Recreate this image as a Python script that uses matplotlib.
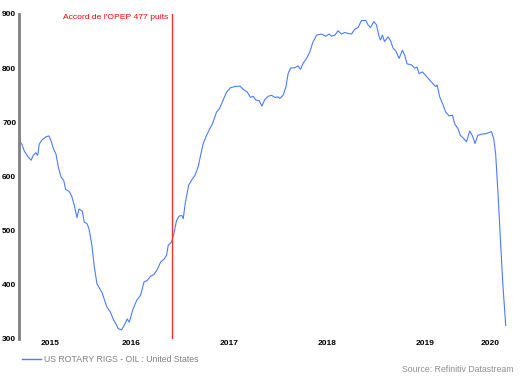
import matplotlib
matplotlib.use('Agg')
import matplotlib.pyplot as plt
from matplotlib.lines import Line2D

# US oil rig count (decimal year, rigs)
years = [2015.357, 2015.385, 2015.411, 2015.446, 2015.480, 2015.503, 2015.528,
         2015.548, 2015.564, 2015.595, 2015.630, 2015.663, 2015.684, 2015.707,
         2015.735, 2015.758, 2015.786, 2015.813, 2015.834, 2015.867, 2015.895,
         2015.921, 2015.949, 2015.969, 2016.003, 2016.023, 2016.051, 2016.071,
         2016.099, 2016.126, 2016.153, 2016.181, 2016.207, 2016.228, 2016.255,
         2016.289, 2016.323, 2016.344, 2016.370, 2016.405, 2016.439, 2016.462,
         2016.483, 2016.517, 2016.558, 2016.599, 2016.633, 2016.666, 2016.701,
         2016.735, 2016.768, 2016.803, 2016.837, 2016.864, 2016.881, 2016.915,
         2016.939, 2016.966, 2016.993, 2017.020, 2017.034, 2017.054, 2017.089,
         2017.119, 2017.153, 2017.187, 2017.211, 2017.238, 2017.272, 2017.299,
         2017.334, 2017.374, 2017.401, 2017.442, 2017.477, 2017.517, 2017.561,
         2017.612, 2017.646, 2017.687, 2017.721, 2017.748, 2017.776, 2017.809,
         2017.837, 2017.867, 2017.901, 2017.936, 2017.969, 2018.003, 2018.020,
         2018.054, 2018.082, 2018.105, 2018.130, 2018.173, 2018.207, 2018.232,
         2018.258, 2018.293, 2018.327, 2018.354, 2018.395, 2018.446, 2018.490,
         2018.523, 2018.548, 2018.582, 2018.615, 2018.650, 2018.684, 2018.717,
         2018.752, 2018.786, 2018.819, 2018.854, 2018.898, 2018.921, 2018.946,
         2018.980, 2019.007, 2019.034, 2019.048, 2019.068, 2019.089, 2019.126,
         2019.150, 2019.177, 2019.204, 2019.238, 2019.272, 2019.296, 2019.319,
         2019.364, 2019.398, 2019.421, 2019.442, 2019.477, 2019.517, 2019.551,
         2019.585, 2019.612, 2019.626, 2019.653, 2019.681, 2019.714, 2019.748,
         2019.783, 2019.806, 2019.840, 2019.864, 2019.898, 2019.926, 2019.959,
         2019.987, 2020.013, 2020.042, 2020.078, 2020.122, 2020.156, 2020.181,
         2020.204, 2020.224, 2020.248, 2020.272, 2020.297, 2020.327]
rigs = [667, 660, 647, 637, 630, 639, 644,
        639, 660, 668, 673, 675, 666, 652,
        641, 618, 599, 593, 576, 573, 564,
        547, 524, 540, 536, 516, 513, 504,
        476, 433, 402, 393, 385, 373, 359,
        350, 335, 329, 319, 317, 328, 337,
        331, 353, 371, 381, 405, 408, 416,
        419, 428, 442, 447, 455, 473, 479,
        495, 519, 527, 528, 522, 550, 584,
        593, 602, 618, 639, 661, 676, 686,
        698, 719, 724, 741, 756, 764, 766,
        767, 761, 756, 746, 748, 741, 740,
        730, 742, 748, 750, 746, 747, 744,
        750, 765, 790, 800, 801, 804, 798,
        809, 818, 830, 846, 861, 863, 859,
        863, 859, 861, 869, 863, 866, 864,
        863, 872, 875, 888, 888, 880, 875,
        886, 880, 858, 852, 861, 849, 858,
        851, 837, 832, 818, 833, 824, 808,
        806, 800, 802, 790, 793, 785, 778,
        771, 766, 769, 747, 735, 719, 712,
        713, 697, 688, 676, 670, 664, 684,
        675, 661, 676, 678, 679, 681, 683,
        670, 642, 569, 488, 402, 325]

opec_date = 2016.92
opec_label = "Accord de l'OPEP 477 puits"
year_labels = ['2015', '2016', '2017', '2018', '2019', '2020']
y_ticks = [300, 400, 500, 600, 700, 800, 900]

font = 'Liberation Sans'
blue = '#4d7bff'

fig = plt.figure(figsize=(5.2, 3.77), dpi=100)
ax = fig.add_axes([19/520, 1 - 339/377, (507 - 19)/520, (339 - 14)/377])

ax.plot(years, rigs, color=blue, lw=0.8)
ax.axvline(opec_date, color='#ff3030', lw=1.0)
ax.text(opec_date - 0.035, 893, opec_label, color='red', fontsize=6.1,
        family=font, ha='right', va='center')

x0, x1 = years[0], 2020.34
ax.set_xlim(x0, x1)
ax.set_ylim(300, 900)

# year labels sit in the middle of the visible part of each year
pos = []
for lab in year_labels:
    a = max(int(lab), x0)
    b = min(int(lab) + 1, x1)
    pos.append((a + b) / 2)
ax.set_xticks(pos)
ax.set_xticklabels(year_labels)
ax.set_yticks(y_ticks)
ax.tick_params(length=0, labelsize=6)
ax.tick_params(axis='y', pad=2)
ax.tick_params(axis='x', pad=1)
for lab in ax.get_xticklabels() + ax.get_yticklabels():
    lab.set_family(font)
    lab.set_fontweight('bold')

for s in ['top', 'right', 'bottom']:
    ax.spines[s].set_visible(False)
ax.spines['left'].set_color('#808080')
ax.spines['left'].set_linewidth(2)

# legend entry under the plot
ly = 1 - 359/377
fig.add_artist(Line2D([22/520, 41/520], [ly, ly], color=blue, lw=1))
fig.text(44/520, ly, 'US ROTARY RIGS - OIL : United States', ha='left',
         va='center', fontsize=6.3, family=font, color='#808080')
fig.text(513/520, 1 - 370/377, 'Source: Refinitiv Datastream', ha='right',
         va='center', fontsize=6.3, family=font, color='#909090')

fig.savefig('out.png', dpi=100)
